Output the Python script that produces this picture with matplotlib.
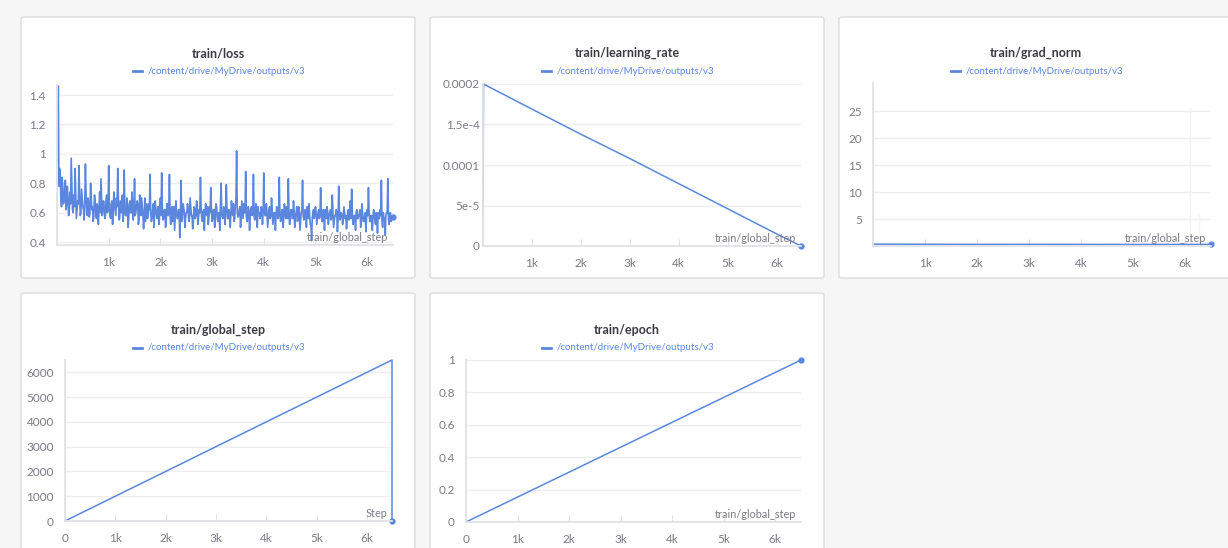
import numpy as np
import matplotlib
matplotlib.use("Agg")
import matplotlib.pyplot as plt
from matplotlib.patches import FancyBboxPatch

plt.rcParams['font.family'] = ['Lato', 'DejaVu Sans']

W, H = 1228, 548
BLUE = '#5a87dd'
PALE = '#dfe7f8'
TICK = '#7b7b86'
TITLE = '#3b3b44'
GRID = '#efeff1'
SPINE = '#e2e2e6'
run_name = '/content/drive/MyDrive/outputs/v3'

# ---- data ----
# loss logged every 12.5 steps: two interleaved series (on the 25s and between them)
loss_steps = np.arange(25, 6501, 25)
loss = [
    1.46, 0.90, 0.70, 0.84, 0.66, 0.81, 0.62, 0.78, 0.58, 0.74, 0.97, 0.62, 0.72, 0.90, 0.56, 0.68, 0.92, 0.58, 0.76, 0.64,
    0.55, 0.93, 0.60, 0.70, 0.57, 0.80, 0.62, 0.54, 0.72, 0.60, 0.66, 0.52, 0.74, 0.83, 0.58, 0.68, 0.56, 0.70, 0.60, 0.92,
    0.58, 0.66, 0.52, 0.74, 0.62, 0.70, 0.90, 0.55, 0.68, 0.60, 0.54, 0.89, 0.58, 0.70, 0.50, 0.66, 0.60, 0.74, 0.55, 0.83,
    0.60, 0.68, 0.52, 0.72, 0.58, 0.64, 0.49, 0.70, 0.60, 0.56, 0.66, 0.86, 0.54, 0.62, 0.50, 0.68, 0.58, 0.64, 0.52, 0.70,
    0.87, 0.55, 0.62, 0.50, 0.66, 0.58, 0.86, 0.52, 0.64, 0.60, 0.48, 0.68, 0.56, 0.62, 0.43, 0.82, 0.56, 0.64, 0.50, 0.60,
    0.66, 0.54, 0.70, 0.58, 0.49, 0.64, 0.56, 0.68, 0.52, 0.62, 0.84, 0.55, 0.60, 0.48, 0.66, 0.58, 0.52, 0.64, 0.77, 0.54,
    0.62, 0.50, 0.66, 0.56, 0.60, 0.48, 0.80, 0.57, 0.64, 0.52, 0.79, 0.56, 0.62, 0.50, 0.68, 0.58, 0.54, 0.64, 1.02, 0.57,
    0.62, 0.50, 0.68, 0.56, 0.60, 0.88, 0.54, 0.64, 0.48, 0.62, 0.58, 0.86, 0.55, 0.66, 0.50, 0.60, 0.56, 0.64, 0.52, 0.87,
    0.58, 0.66, 0.50, 0.62, 0.56, 0.70, 0.52, 0.60, 0.48, 0.64, 0.56, 0.84, 0.54, 0.62, 0.50, 0.66, 0.56, 0.60, 0.83, 0.52,
    0.62, 0.56, 0.68, 0.50, 0.60, 0.54, 0.64, 0.48, 0.60, 0.82, 0.55, 0.62, 0.50, 0.58, 0.66, 0.52, 0.41, 0.60, 0.56, 0.64,
    0.52, 0.60, 0.56, 0.77, 0.54, 0.62, 0.48, 0.58, 0.64, 0.52, 0.60, 0.55, 0.72, 0.50, 0.58, 0.62, 0.47, 0.78, 0.55, 0.60,
    0.52, 0.64, 0.56, 0.49, 0.60, 0.55, 0.68, 0.76, 0.52, 0.58, 0.48, 0.62, 0.56, 0.60, 0.50, 0.66, 0.54, 0.58, 0.47, 0.62,
    0.77, 0.54, 0.58, 0.48, 0.62, 0.55, 0.60, 0.46, 0.57, 0.62, 0.82, 0.50, 0.56, 0.45, 0.60, 0.83, 0.52, 0.60, 0.55, 0.57,
]
loss_steps_b = np.arange(12.5, 6500, 25)
loss_b = [
    0.95, 0.78, 0.86, 0.64, 0.74, 0.68, 0.82, 0.66, 0.70, 0.62, 0.66, 0.80, 0.60, 0.64, 0.74, 0.62, 0.66, 0.72, 0.60, 0.70,
    0.62, 0.68, 0.72, 0.58, 0.66, 0.60, 0.70, 0.64, 0.58, 0.68, 0.56, 0.64, 0.62, 0.60, 0.70, 0.62, 0.64, 0.58, 0.72, 0.62,
    0.64, 0.56, 0.68, 0.60, 0.66, 0.58, 0.64, 0.70, 0.56, 0.64, 0.72, 0.60, 0.62, 0.58, 0.66, 0.56, 0.68, 0.60, 0.64, 0.62,
    0.58, 0.64, 0.66, 0.56, 0.62, 0.70, 0.58, 0.60, 0.54, 0.66, 0.58, 0.62, 0.60, 0.56, 0.66, 0.58, 0.62, 0.56, 0.64, 0.60,
    0.58, 0.64, 0.56, 0.62, 0.54, 0.66, 0.60, 0.58, 0.62, 0.54, 0.64, 0.58, 0.60, 0.56, 0.62, 0.58, 0.54, 0.66, 0.60, 0.56,
    0.60, 0.62, 0.56, 0.64, 0.58, 0.54, 0.62, 0.58, 0.66, 0.56, 0.60, 0.64, 0.54, 0.62, 0.58, 0.60, 0.64, 0.56, 0.60, 0.62,
    0.56, 0.62, 0.58, 0.64, 0.54, 0.60, 0.66, 0.58, 0.56, 0.62, 0.60, 0.64, 0.56, 0.60, 0.58, 0.62, 0.66, 0.56, 0.70, 0.60,
    0.58, 0.64, 0.56, 0.62, 0.66, 0.60, 0.58, 0.56, 0.62, 0.58, 0.64, 0.60, 0.58, 0.62, 0.56, 0.64, 0.60, 0.58, 0.62, 0.60,
    0.62, 0.58, 0.60, 0.56, 0.64, 0.58, 0.62, 0.56, 0.60, 0.58, 0.62, 0.60, 0.58, 0.56, 0.62, 0.58, 0.60, 0.64, 0.56, 0.60,
    0.58, 0.62, 0.56, 0.60, 0.58, 0.64, 0.56, 0.60, 0.54, 0.62, 0.58, 0.56, 0.60, 0.64, 0.56, 0.58, 0.52, 0.56, 0.62, 0.58,
    0.60, 0.56, 0.62, 0.58, 0.60, 0.54, 0.58, 0.62, 0.56, 0.60, 0.58, 0.62, 0.56, 0.60, 0.54, 0.58, 0.60, 0.56, 0.62, 0.58,
    0.58, 0.56, 0.60, 0.58, 0.54, 0.62, 0.58, 0.56, 0.60, 0.54, 0.58, 0.60, 0.56, 0.58, 0.62, 0.56, 0.58, 0.54, 0.60, 0.56,
    0.58, 0.60, 0.54, 0.58, 0.56, 0.60, 0.52, 0.58, 0.60, 0.56, 0.58, 0.54, 0.60, 0.56, 0.58, 0.60, 0.56, 0.58, 0.54, 0.58,
]
loss_first_min = 0.40

lr_steps = [1, 10, 1000, 2000, 3000, 4000, 5000, 6000, 6500]
lr = [4.0e-5, 2.0e-4, 1.69e-4, 1.38e-4, 1.08e-4, 0.77e-4, 0.46e-4, 0.15e-4, 0.0]

gn_steps = [0, 1000, 2000, 3000, 4000, 5000, 6000, 6500]
grad_norm = [0.35, 0.32, 0.30, 0.31, 0.30, 0.29, 0.30, 0.30]
gn_spike_steps = [6100, 6270]
gn_spike_max = [25.5, 6.0]

gs_steps = [0, 6500, 6500]
global_step = [0, 6500, 0]

ep_steps = [0, 6500]
epoch = [0.0, 1.0]


def px_axes(fig, x0, y0, x1, y1):
    ax = fig.add_axes([x0 / W, 1 - y1 / H, (x1 - x0) / W, (y1 - y0) / H])
    ax.set_zorder(2)
    return ax


def panel(fig, x0, y0, x1, y1, title, tx, ty):
    fig.patches.append(FancyBboxPatch((x0 / W, 1 - y1 / H), (x1 - x0) / W, (y1 - y0) / H,
                                      boxstyle='round,pad=0,rounding_size=0.003',
                                      transform=fig.transFigure, facecolor='white',
                                      edgecolor='#dcdce0', linewidth=1.0, zorder=-10))
    fig.text(tx / W, 1 - ty / H, title, ha='center', va='center', fontsize=9,
             fontweight='bold', color=TITLE)
    ly = 1 - (ty + 18) / H
    fig.text((tx - 70) / W, ly, run_name, ha='left', va='center', fontsize=7, color=BLUE)
    fig.lines.append(plt.Line2D([(tx - 85) / W, (tx - 76) / W], [ly, ly], color=BLUE, lw=2,
                                transform=fig.transFigure))


def style(ax, xticks, xlabels, yticks, ylabels, xname, ypad=8):
    ax.set_facecolor('none')
    for s in ['top', 'right']:
        ax.spines[s].set_visible(False)
    for s in ['left', 'bottom']:
        ax.spines[s].set_color(SPINE)
        ax.spines[s].set_linewidth(1.3)
    ax.set_xticks(xticks)
    ax.set_xticklabels(xlabels)
    ax.set_yticks(yticks)
    ax.set_yticklabels(ylabels)
    ax.tick_params(axis='x', direction='in', length=5, color=SPINE, labelsize=8.5, labelcolor=TICK, pad=8.5)
    ax.tick_params(axis='y', length=0, labelsize=8.5, labelcolor=TICK, pad=ypad)
    for y in yticks:
        ax.axhline(y, color=GRID, lw=1, zorder=0)
    ax.text(0.985, 0.015, xname, transform=ax.transAxes, ha='right', va='bottom',
            fontsize=7.8, color=TICK)


fig = plt.figure(figsize=(W / 100, H / 100), dpi=100)
fig.patch.set_facecolor('#f6f6f7')

k_ticks = [1000, 2000, 3000, 4000, 5000, 6000]
k_labels = ['1k', '2k', '3k', '4k', '5k', '6k']
k0_ticks = [0] + k_ticks
k0_labels = ['0'] + k_labels

# train/loss
all_steps = np.concatenate([loss_steps, loss_steps_b])
all_loss = np.concatenate([loss, loss_b])
order = np.argsort(all_steps)

panel(fig, 21, 17, 415, 278, 'train/loss', 218, 53)
ax = px_axes(fig, 57, 85, 393, 245)
ax.set_xlim(0, 6500)
ax.set_ylim(0.38, 1.468)
ax.plot([3, 3], [loss_first_min, loss[0]], color=PALE, lw=1.5)
ax.plot(all_steps[order], all_loss[order], color=BLUE, lw=1.2)
ax.plot([loss_steps[-1]], [loss[-1]], 'o', color=BLUE, ms=3.5, clip_on=False)
style(ax, k_ticks, k_labels, [0.4, 0.6, 0.8, 1.0, 1.2, 1.4],
      ['0.4', '0.6', '0.8', '1', '1.2', '1.4'], 'train/global_step')

# train/learning_rate
panel(fig, 430, 17, 824, 278, 'train/learning_rate', 627, 53)
ax = px_axes(fig, 483, 84, 801, 246)
ax.set_xlim(0, 6500)
ax.set_ylim(0, 2e-4)
ax.plot([1, 1], [0, lr[0]], color=PALE, lw=1.5, clip_on=False)
ax.plot(lr_steps, lr, color=BLUE, lw=1.1, clip_on=False)
ax.plot([lr_steps[-1]], [lr[-1]], 'o', color=BLUE, ms=3.5, clip_on=False)
style(ax, k_ticks, k_labels, [0, 5e-5, 1e-4, 1.5e-4, 2e-4],
      ['0', '5e-5', '0.0001', '1.5e-4', '0.0002'], 'train/global_step', ypad=2.5)

# train/grad_norm
panel(fig, 839, 17, 1240, 278, 'train/grad_norm', 1036, 53)
ax = px_axes(fig, 873, 83, 1211, 246)
ax.set_xlim(0, 6500)
ax.set_ylim(0, 30.2)
ax.vlines(gn_spike_steps, 0, gn_spike_max, color='#f1f3fb', lw=1)
ax.plot(gn_steps, grad_norm, color=BLUE, lw=1.1, clip_on=False)
ax.plot([gn_steps[-1]], [grad_norm[-1]], 'o', color=BLUE, ms=3.5, clip_on=False)
style(ax, k_ticks, k_labels, [5, 10, 15, 20, 25], ['5', '10', '15', '20', '25'], 'train/global_step')

# train/global_step
panel(fig, 21, 293, 415, 560, 'train/global_step', 218, 330)
ax = px_axes(fig, 65, 360, 392, 521)
ax.set_xlim(0, 6500)
ax.set_ylim(0, 6500)
ax.plot(gs_steps, global_step, color=BLUE, lw=1.1, clip_on=False)
ax.plot([gs_steps[-1]], [global_step[-1]], 'o', color=BLUE, ms=3.5, clip_on=False)
style(ax, k0_ticks, k0_labels, [0, 1000, 2000, 3000, 4000, 5000, 6000],
      ['0', '1000', '2000', '3000', '4000', '5000', '6000'], 'Step')

# train/epoch
panel(fig, 430, 293, 824, 560, 'train/epoch', 627, 330)
ax = px_axes(fig, 466, 360, 801, 522)
ax.set_xlim(0, 6500)
ax.set_ylim(0, 1)
ax.plot(ep_steps, epoch, color=BLUE, lw=1.1, clip_on=False)
ax.plot([ep_steps[-1]], [epoch[-1]], 'o', color=BLUE, ms=3.5, clip_on=False)
style(ax, k0_ticks, k0_labels, [0, 0.2, 0.4, 0.6, 0.8, 1.0],
      ['0', '0.2', '0.4', '0.6', '0.8', '1'], 'train/global_step')

plt.savefig('out.png', dpi=100, facecolor=fig.get_facecolor())
